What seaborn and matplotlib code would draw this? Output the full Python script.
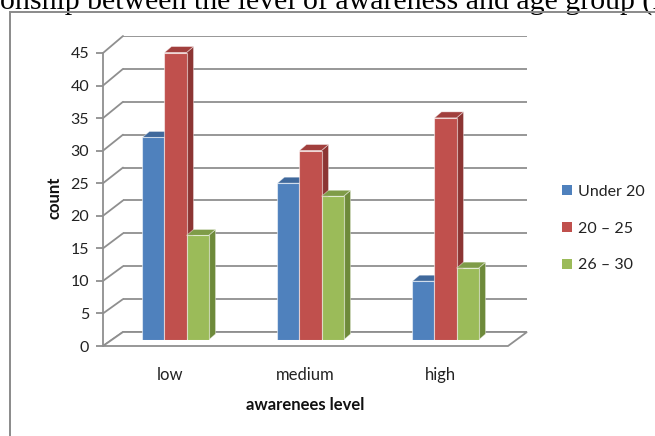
import numpy as np
import pandas as pd
import matplotlib
matplotlib.use("Agg")
import matplotlib.pyplot as plt
from matplotlib.patches import Polygon, Rectangle, Patch
from matplotlib.lines import Line2D
import seaborn as sns

# ---- data -------------------------------------------------------------
levels = ["low", "medium", "high"]
age_groups = ["Under 20", "20 \u2013 25", "26 \u2013 30"]
under_20 = [31, 24, 9]
age_20_25 = [44, 29, 34]
age_26_30 = [16, 22, 11]
y_ticks = [0, 5, 10, 15, 20, 25, 30, 35, 40, 45]

df = pd.DataFrame({
    "level": levels * 3,
    "age": np.repeat(age_groups, len(levels)),
    "count": under_20 + age_20_25 + age_26_30,
})

# ---- style --------------------------------------------------------------
front_cols = ["#4F81BD", "#C0504D", "#9BBB59"]
side_cols = ["#345E8F", "#8C3533", "#6E8A3A"]
top_cols = ["#40699C", "#A13F3D", "#7F9C48"]
grid_col = "#8F8F8F"

sns.set_theme(style="white")
plt.rcParams["font.family"] = ["Lato", "DejaVu Sans"]

W, H = 655, 436
fig = plt.figure(figsize=(W / 100, H / 100), dpi=100)
fig.patch.set_facecolor("white")


def box(x0, y_top, x1, y_bot):
    return [x0 / W, 1 - y_bot / H, (x1 - x0) / W, (y_bot - y_top) / H]


# back wall, bar plane and front plane of the 3-D frame
ax_back = fig.add_axes(box(123, 36, 527, 332))
ax_bars = fig.add_axes(box(108, 46, 513, 340))
ax_front = fig.add_axes(box(103, 53, 508, 346))
for a in (ax_back, ax_bars, ax_front):
    a.set_xlim(-0.5, 2.5)
    a.set_ylim(0, 45)
    a.patch.set_alpha(0)
    for s in a.spines.values():
        s.set_visible(False)
ax_back.set_zorder(0)
ax_bars.set_zorder(2)
ax_front.set_zorder(3)
ax_back.set_xticks([])
ax_back.set_yticks([])
ax_bars.set_xticks([])
ax_bars.set_yticks([])

to_fig = fig.transFigure.inverted()


def fig_pt(ax, x, y):
    return to_fig.transform(ax.transData.transform((x, y)))


# back wall gridlines and their diagonals to the front axis
for t in y_ticks:
    ax_back.axhline(t, color=grid_col, lw=1.3, zorder=1)
    p_front = fig_pt(ax_front, -0.5, t)
    p_back = fig_pt(ax_back, -0.5, t)
    fig.add_artist(Line2D([p_front[0], p_back[0]], [p_front[1], p_back[1]],
                          color=grid_col, lw=1.3, zorder=0.5))

# floor
floor = [fig_pt(ax_front, -0.5, 0), fig_pt(ax_front, 2.5, 0),
         fig_pt(ax_back, 2.5, 0), fig_pt(ax_back, -0.5, 0)]
fig.add_artist(Polygon(floor, closed=True, facecolor="white", edgecolor=grid_col,
                       lw=1.3, zorder=0.6))

# bars
sns.barplot(data=df, x="level", y="count", hue="age", order=levels,
            hue_order=age_groups, palette=front_cols, saturation=1,
            width=0.49, gap=0, errorbar=None, legend=False, ax=ax_bars,
            edgecolor=(1, 1, 1, 0.55), linewidth=0.8)
ax_bars.set_xlim(-0.5, 2.5)
ax_bars.set_ylim(0, 45)
ax_bars.set_xlabel("")
ax_bars.set_ylabel("")
ax_bars.set_xticks([])
ax_bars.set_yticks([])

# give every column a top and a right-hand side face
inv = ax_bars.transData.inverted()
depth = np.array([7.0, 6.0])
bars = sorted([p for p in ax_bars.patches if isinstance(p, Rectangle)],
              key=lambda r: r.get_x())
for i, r in enumerate(bars):
    x0, w, h = r.get_x(), r.get_width(), r.get_height()
    hex_col = matplotlib.colors.to_hex(r.get_facecolor()).upper()
    k = front_cols.index(hex_col) if hex_col in front_cols else 0
    d0 = ax_bars.transData.transform([(x0, 0), (x0 + w, 0), (x0 + w, h), (x0, h)])
    side = inv.transform([d0[1], d0[2], d0[2] + depth, d0[1] + depth])
    top = inv.transform([d0[3], d0[2], d0[2] + depth, d0[3] + depth])
    ax_bars.add_patch(Polygon(side, closed=True, facecolor=side_cols[k],
                              edgecolor=(1, 1, 1, 0.45), lw=0.6,
                              zorder=2 + 3 * i, clip_on=False))
    ax_bars.add_patch(Polygon(top, closed=True, facecolor=top_cols[k],
                              edgecolor=(1, 1, 1, 0.45), lw=0.6,
                              zorder=2 + 3 * i, clip_on=False))
    r.set_zorder(3 + 3 * i)

# front axis: ticks, tick labels and categories
ax_front.spines["left"].set_visible(True)
ax_front.spines["left"].set_color(grid_col)
ax_front.spines["left"].set_linewidth(1.3)
ax_front.set_yticks(y_ticks)
ax_front.set_yticklabels([str(t) for t in y_ticks])
ax_front.tick_params(axis="y", length=5, width=1.3, color=grid_col, direction="out",
                     left=True, labelsize=11.5, labelcolor="#222222", pad=5)
ax_front.set_xticks(range(len(levels)))
ax_front.set_xticklabels(levels)
ax_front.tick_params(axis="x", length=0, labelsize=12, labelcolor="#222222", pad=15)

fig.text(54 / W, 1 - 198 / H, "count", rotation=90, ha="center", va="center",
         fontsize=12, fontweight="bold", color="#111111")
fig.text(305 / W, 1 - 405 / H, "awarenees level", ha="center", va="center",
         fontsize=12, fontweight="bold", color="#111111")

# legend
handles = [Patch(facecolor=c, edgecolor="none") for c in front_cols]
fig.legend(handles, age_groups, loc="upper left",
           bbox_to_anchor=(562 / W, 1 - 185 / H), frameon=False,
           fontsize=11.5, handlelength=0.6, handleheight=0.6,
           handletextpad=0.4, labelspacing=1.42, borderpad=0, borderaxespad=0,
           labelcolor="#222222")

# outer chart frame and the caption above it
fig.add_artist(Rectangle((10 / W, -0.2), 1.2, 1 - 12 / H + 0.2,
                         transform=fig.transFigure, fill=False,
                         edgecolor="#8A8A8A", lw=1.4, zorder=5))
fig.text(0 / W, 1 - 10 / H, "onship between the level of awareness and age group (I",
         ha="left", va="baseline", fontsize=21.5, family="Liberation Serif",
         color="black")

fig.savefig("out.png", dpi=100)
